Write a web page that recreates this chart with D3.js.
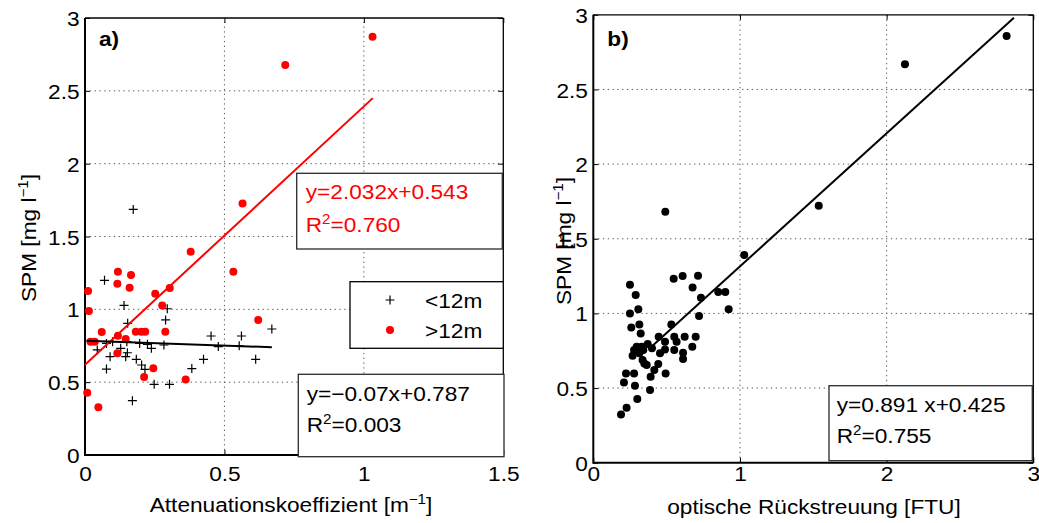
<!DOCTYPE html>
<html>
<head>
<meta charset="utf-8">
<script src="https://cdn.jsdelivr.net/npm/d3@7"></script>
<style>
  body { margin: 0; background: #fff; }
  svg { display: block; font-family: "Liberation Sans", Arial, sans-serif; }
</style>
</head>
<body>
<svg id="canvas" width="1039" height="523"></svg>
<script>
// Datos
// Panel a) : Attenuationskoeffizient vs SPM
const xRojo = [0.565,0.379,0.532,0.118,0.165,0.116,0.160,0.011,0.252,0.304,0.277,0.014,0.621,0.060,0.182,0.202,0.216,0.288,0.118,0.146,0.020,0.035,0.116,0.245,0.212,0.361,0.008,0.048,0.718,1.031];
const yRojo = [1.727,1.396,1.258,1.258,1.235,1.176,1.148,1.126,1.107,1.146,1.027,0.988,0.927,0.844,0.846,0.846,0.846,0.846,0.819,0.796,0.778,0.778,0.698,0.595,0.535,0.519,0.428,0.327,2.677,2.871];
const xNegro = [0.173,0.070,0.140,0.295,0.289,0.153,0.670,0.452,0.561,0.099,0.150,0.077,0.044,0.196,0.224,0.238,0.283,0.478,0.553,0.128,0.152,0.146,0.090,0.184,0.425,0.612,0.203,0.215,0.077,0.383,0.248,0.303,0.170];
const yNegro = [1.686,1.199,1.027,1.004,0.927,0.904,0.865,0.817,0.817,0.778,0.778,0.766,0.721,0.766,0.760,0.732,0.755,0.744,0.750,0.732,0.702,0.675,0.675,0.657,0.657,0.657,0.618,0.588,0.590,0.593,0.485,0.485,0.373];
const lineaRojaX = [0, 1.032], lineaRojaY = [0.62, 2.45];
const lineaNegraX = [0.005, 0.67], lineaNegraY = [0.785, 0.74];

// Panel b) : optische Rückstreuung vs SPM
const xB = [0.491,1.029,0.548,0.609,0.714,0.250,0.677,0.289,0.734,0.852,0.900,0.307,0.923,0.250,0.721,0.259,0.314,0.532,0.323,0.446,0.552,0.623,0.698,0.489,0.568,0.371,0.675,0.296,0.330,0.400,0.278,0.341,0.552,0.489,0.268,0.314,0.455,0.612,0.336,0.612,0.348,0.364,0.443,0.416,0.223,0.278,0.493,0.391,0.209,0.284,0.387,0.300,0.227,0.189,1.537,2.125,2.818];
const yB = [1.681,1.391,1.232,1.250,1.253,1.192,1.174,1.123,1.105,1.143,1.143,1.027,1.027,1.000,0.982,0.906,0.926,0.926,0.866,0.844,0.844,0.844,0.844,0.810,0.810,0.795,0.777,0.777,0.777,0.766,0.755,0.755,0.755,0.759,0.717,0.733,0.733,0.737,0.688,0.694,0.665,0.654,0.661,0.621,0.598,0.598,0.598,0.576,0.538,0.516,0.487,0.427,0.368,0.323,1.721,2.668,2.858];
const lineaBX = [0.4, 2.868], lineaBY = [0.78, 2.98];

// Ticks
const ticksXa = [0, 0.5, 1, 1.5];
const ticksXb = [0, 1, 2, 3];
const ticksY = [0, 0.5, 1, 1.5, 2, 2.5, 3];

// Textos
const leyenda = ["<12m", ">12m"];
const ecRoja = ["y=2.032x+0.543", "0.760"];
const ecNegra = ["y=\u22120.07x+0.787", "0.003"];
const ecB = ["y=0.891 x+0.425", "0.755"];

const svg = d3.select("#canvas");
const FS = 21, SX = 1.08;

// Escalas
const xa = d3.scaleLinear().domain([0, 1.5]).range([85, 503.3]);
const ya = d3.scaleLinear().domain([0, 3]).range([455, 18]);
const xb = d3.scaleLinear().domain([0, 3]).range([593.3, 1033.3]);
const yb = d3.scaleLinear().domain([0, 3]).range([462.7, 14.8]);

// Texto con superindice opcional, ligeramente ensanchado
function texto(x, y, partes, opts = {}) {
    const t = svg.append("text")
        .attr("transform", `translate(${x},${y}) ${opts.rot ? "rotate(-90)" : ""} scale(${SX},1)`)
        .attr("font-size", opts.size || FS)
        .attr("fill", opts.color || "black")
        .attr("font-weight", opts.bold ? "bold" : "normal")
        .attr("text-anchor", opts.anchor || "start");
    partes.forEach(p => {
        if (p.sup) {
            t.append("tspan").attr("dy", -8).attr("font-size", 14).text(p.t);
        } else {
            t.append("tspan").attr("dy", p.down ? 8 : 0).text(p.t);
        }
    });
    return t;
}

function panel(x, y, tx, letra, yLetra) {
    const [x0, x1] = x.range(), [y0, y1] = y.range();

    // Rejilla punteada
    const g = svg.append("g");
    g.selectAll(".gx").data(tx.slice(1, -1)).join("line")
        .attr("x1", d => x(d)).attr("x2", d => x(d))
        .attr("y1", y0).attr("y2", y1)
        .attr("stroke", "#555").attr("stroke-width", 1).attr("stroke-dasharray", "1.3,3.5");
    g.selectAll(".gy").data(ticksY.slice(1, -1)).join("line")
        .attr("y1", d => y(d)).attr("y2", d => y(d))
        .attr("x1", x0).attr("x2", x1)
        .attr("stroke", "#555").attr("stroke-width", 1).attr("stroke-dasharray", "1.3,3.5");

    // Ejes con ticks hacia dentro
    const ejeX = svg.append("g").attr("transform", `translate(0,${y0})`)
        .call(d3.axisBottom(x).tickValues(tx).tickSizeInner(-5).tickSizeOuter(0).tickPadding(0).tickFormat(d3.format("")));
    ejeX.selectAll("text").attr("font-size", FS).attr("fill", "black")
        .attr("y", 0).attr("dy", null)
        .attr("transform", `translate(0,${480.5 - y0}) scale(${SX},1)`);
    const ejeY = svg.append("g").attr("transform", `translate(${x0},0)`)
        .call(d3.axisLeft(y).tickValues(ticksY).tickSizeInner(-5).tickSizeOuter(0).tickPadding(5).tickFormat(d3.format("")));
    ejeY.selectAll("text").attr("font-size", FS).attr("fill", "black").attr("dy", "0.36em")
        .attr("transform", `scale(${SX},1)`);
    svg.append("g").attr("transform", `translate(0,${y1})`)
        .call(d3.axisTop(x).tickValues(tx).tickSizeInner(-5).tickSizeOuter(0).tickFormat(""));
    svg.append("g").attr("transform", `translate(${x1},0)`)
        .call(d3.axisRight(y).tickValues(ticksY).tickSizeInner(-5).tickSizeOuter(0).tickFormat(""));
    svg.selectAll(".domain").remove();
    svg.selectAll(".tick line").attr("stroke", "black");

    // Marco
    svg.append("line").attr("x1", x0).attr("x2", x0).attr("y1", y0 + 1).attr("y2", y1).attr("stroke", "black").attr("stroke-width", 2);
    svg.append("line").attr("x1", x0).attr("x2", x1).attr("y1", y0).attr("y2", y0).attr("stroke", "black").attr("stroke-width", 2);
    svg.append("line").attr("x1", x0).attr("x2", x1).attr("y1", y1).attr("y2", y1).attr("stroke", "black").attr("stroke-width", 1.3);
    svg.append("line").attr("x1", x1).attr("x2", x1).attr("y1", y0).attr("y2", y1).attr("stroke", "black").attr("stroke-width", 1.3);

    texto(x0 + 14, yLetra, [{t: letra}], {bold: true});
}

function caja(x, y, w, h, lineas, color, tx, b1, b2) {
    svg.append("rect").attr("x", x).attr("y", y).attr("width", w).attr("height", h)
        .attr("fill", "white").attr("stroke", "#2a2a2a").attr("stroke-width", 1.3);
    texto(tx, b1, [{t: lineas[0]}], {color: color});
    texto(tx, b2, [{t: "R"}, {t: "2", sup: true}, {t: "=" + lineas[1], down: true}], {color: color});
}

// ---------- Panel a ----------
panel(xa, ya, ticksXa, "a)", 46);

svg.append("g").selectAll("path").data(xNegro).join("path")
    .attr("transform", (d, i) => `translate(${xa(d)},${ya(yNegro[i])})`)
    .attr("d", "M-4.5,0H4.5M0,-4.5V4.5")
    .attr("stroke", "black").attr("stroke-width", 1.2);
svg.append("g").selectAll("circle").data(xRojo).join("circle")
    .attr("cx", d => xa(d)).attr("cy", (d, i) => ya(yRojo[i]))
    .attr("r", 4).attr("fill", "#ff0000");

svg.append("line")
    .attr("x1", xa(lineaRojaX[0])).attr("y1", ya(lineaRojaY[0]))
    .attr("x2", xa(lineaRojaX[1])).attr("y2", ya(lineaRojaY[1]))
    .attr("stroke", "#ff0000").attr("stroke-width", 2);
svg.append("line")
    .attr("x1", xa(lineaNegraX[0])).attr("y1", ya(lineaNegraY[0]))
    .attr("x2", xa(lineaNegraX[1])).attr("y2", ya(lineaNegraY[1]))
    .attr("stroke", "black").attr("stroke-width", 2);

caja(296.7, 173.3, 205.6, 75.7, ecRoja, "#ff0000", 305.7, 199, 232);
caja(298.3, 374.3, 205.7, 82.4, ecNegra, "black", 306.7, 400.5, 432);

// Leyenda
svg.append("rect").attr("x", 350).attr("y", 281.7).attr("width", 153.3).attr("height", 66.6)
    .attr("fill", "white").attr("stroke", "black").attr("stroke-width", 1.3);
svg.append("path").attr("d", "M385.5,300H394.5M390,295.5V304.5").attr("stroke", "black").attr("stroke-width", 1.2);
svg.append("circle").attr("cx", 390).attr("cy", 330).attr("r", 4).attr("fill", "#ff0000");
texto(425, 307.5, [{t: leyenda[0]}]);
texto(425, 337.5, [{t: leyenda[1]}]);

texto(291, 511.5, [{t: "Attenuationskoeffizient [m"}, {t: "\u22121", sup: true}, {t: "]", down: true}], {anchor: "middle"});
texto(36, 238, [{t: "SPM [mg l"}, {t: "\u22121", sup: true}, {t: "]", down: true}], {anchor: "middle", rot: true});

// ---------- Panel b ----------
panel(xb, yb, ticksXb, "b)", 46);

svg.append("g").selectAll("circle").data(xB).join("circle")
    .attr("cx", d => xb(d)).attr("cy", (d, i) => yb(yB[i]))
    .attr("r", 4).attr("fill", "black");
svg.append("line")
    .attr("x1", xb(lineaBX[0])).attr("y1", yb(lineaBY[0]))
    .attr("x2", xb(lineaBX[1])).attr("y2", yb(lineaBY[1]))
    .attr("stroke", "black").attr("stroke-width", 2);

caja(829, 385.7, 203.3, 75, ecB, "black", 836.7, 411.7, 443.3);

texto(814, 514, [{t: "optische Rückstreuung [FTU]"}], {anchor: "middle"});
texto(571, 241, [{t: "SPM [mg l"}, {t: "\u22121", sup: true}, {t: "]", down: true}], {anchor: "middle", rot: true});
</script>
</body>
</html>
